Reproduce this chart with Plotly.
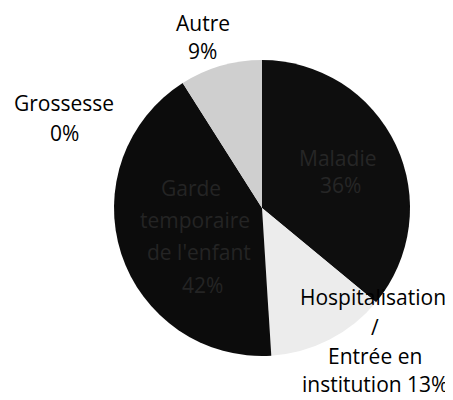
import plotly.graph_objects as go

# slice data, clockwise from 12 o'clock
labels = ["Maladie", "Hospitalisation", "Garde", "Grossesse", "Autre"]
values = [36, 13, 42, 0, 9]
# label lines as printed on the chart (last line carries the %)
label_lines = [
    ["Maladie", "{p}%"],
    ["Hospitalisation", "/", "Entrée en", "institution {p}%"],
    ["Garde", "temporaire", "de l'enfant", "{p}%"],
    ["Grossesse", "{p}%"],
    ["Autre", "{p}%"],
]
colors = ["#0e0e0e", "#ececec", "#0c0c0c", "#888888", "#cfcfcf"]

# page has an 8px body margin, so positions are shifted by it
OFF = 8
W, H = 453, 400
label_pos = [
    ([337, 340], [158, 185], "#262626"),
    ([373, 375, 375, 375], [297, 327, 356, 384], "black"),
    ([191, 195, 199, 202], [188, 220, 252, 285], "#242424"),
    ([64, 64], [103, 133], "black"),
    ([203, 202], [23, 51], "black"),
]

cx, cy, r = 262 - OFF, 208 - OFF, 148

fig = go.Figure(go.Pie(
    labels=labels, values=values, sort=False, direction="clockwise", rotation=0,
    marker=dict(colors=colors, line=dict(width=0)),
    textinfo="none", hoverinfo="label+percent", showlegend=False,
    domain=dict(x=[(cx - r) / W, (cx + r) / W], y=[(H - cy - r) / H, (H - cy + r) / H]),
))

annotations = []
for lines, v, (xs, ys, col) in zip(label_lines, values, label_pos):
    for line, x, y in zip(lines, xs, ys):
        annotations.append(dict(
            text=line.format(p=v), x=(x - OFF) / W, y=1 - (y - OFF) / H,
            xref="paper", yref="paper",
            xanchor="center", yanchor="middle", showarrow=False,
            font=dict(family="Open Sans", size=21, color=col),
        ))

fig.update_layout(
    width=W, height=H, margin=dict(l=0, r=0, t=0, b=0),
    paper_bgcolor="white", plot_bgcolor="white",
    annotations=annotations,
)

fig.write_html("out.html")
